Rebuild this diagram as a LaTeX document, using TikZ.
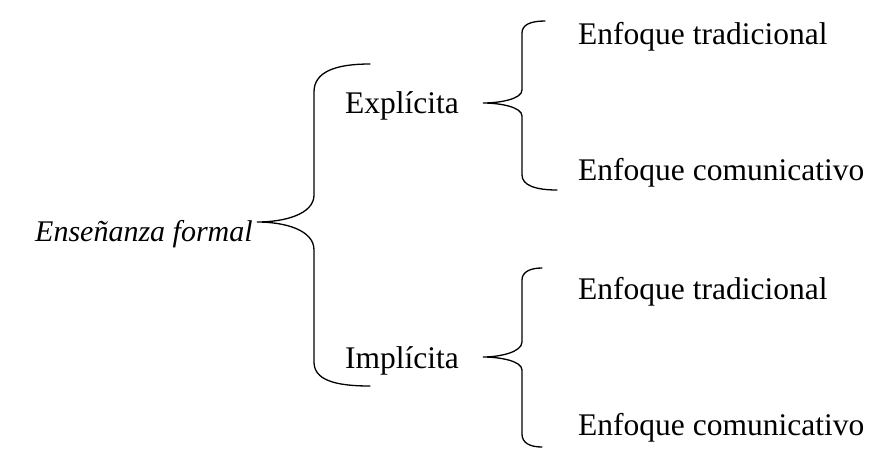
\documentclass[tikz,border=0pt]{standalone}
\usepackage{fontspec}
\setmainfont{Liberation Serif}
\begin{document}
\begin{tikzpicture}[x=1pt,y=-1pt,
  lbl/.style={anchor=base west,inner sep=0pt,font=\fontsize{31.5}{36}\selectfont},
  brace/.style={line width=1.3pt,line cap=round}]
\useasboundingbox (0,0) rectangle (870,448);
% texts
\node[lbl,font=\fontsize{30}{36}\selectfont\itshape] (root) at (35,241) {Enseñanza formal};
\node[lbl] (exp) at (345,113) {Explícita};
\node[lbl] (imp) at (345,368) {Implícita};
\node[lbl] (et1) at (578,44) {Enfoque tradicional};
\node[lbl] (ec1) at (578,180) {Enfoque comunicativo};
\node[lbl] (et2) at (578,299) {Enfoque tradicional};
\node[lbl] (ec2) at (578,435) {Enfoque comunicativo};
% big brace
\draw[brace] (370,64) .. controls (335,64) and (314,72) .. (314,92)
  -- (314,195) .. controls (314,214) and (285,222) .. (257,222)
  .. controls (285,222) and (314,230) .. (314,250)
  -- (314,362) .. controls (314,380) and (335,386) .. (370,386);
% brace 1
\draw[brace] (545,21) .. controls (530,21) and (522,25) .. (522,33)
  -- (522,90) .. controls (522,99) and (500,103) .. (483,103)
  .. controls (500,103) and (522,107) .. (522,116)
  -- (522,175) .. controls (522,185) and (535,190) .. (557,190);
% brace 2
\draw[brace] (542,268) .. controls (530,268) and (522,272) .. (522,280)
  -- (522,342) .. controls (522,352) and (500,357) .. (483,357)
  .. controls (500,357) and (522,361) .. (522,370)
  -- (522,434) .. controls (522,443) and (530,447) .. (542,447);
\end{tikzpicture}
\end{document}
